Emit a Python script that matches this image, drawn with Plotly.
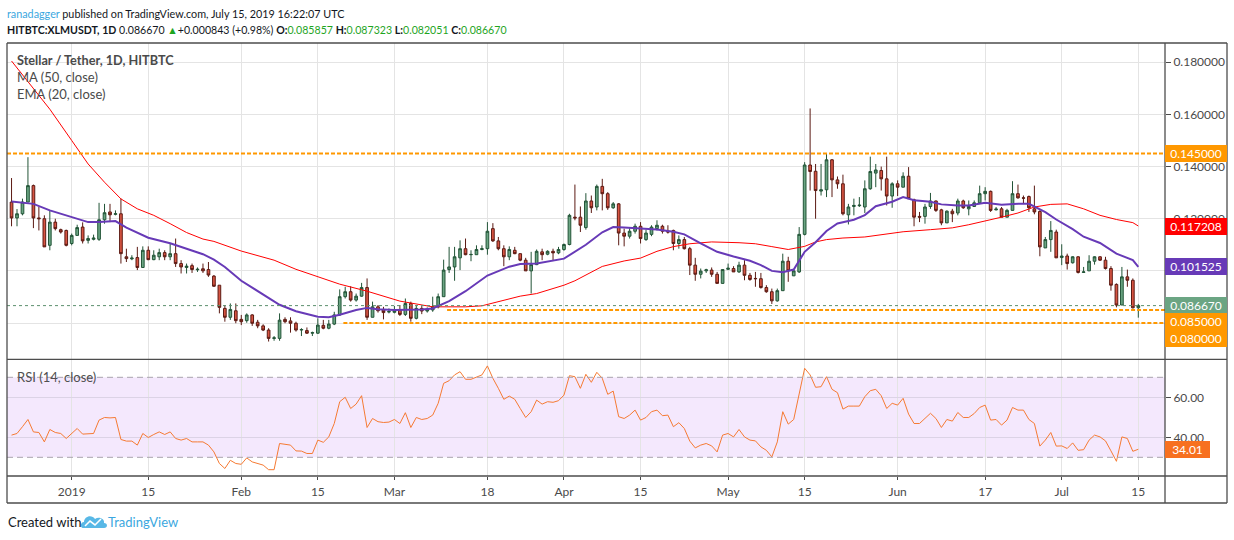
import pandas as pd
import plotly.graph_objects as go

# ---------------- data ----------------
START = "2018-12-21"
N_DAYS = 207

opens = [0.1264, 0.1203, 0.1219, 0.1264, 0.1327, 0.1203, 0.1200, 0.1098, 0.1187, 0.1158,
         0.1155, 0.1105, 0.1136, 0.1168, 0.1117, 0.1121, 0.1121, 0.1196, 0.1226, 0.1217,
         0.1219, 0.1054, 0.1046, 0.1051, 0.1013, 0.1079, 0.1043, 0.1054, 0.1070, 0.1054,
         0.1066, 0.1028, 0.1013, 0.1020, 0.1004, 0.1008, 0.1005, 0.0980, 0.0945, 0.0856,
         0.0822, 0.0847, 0.0814, 0.0809, 0.0831, 0.0803, 0.0789, 0.0773, 0.0741, 0.0741,
         0.0814, 0.0808, 0.0799, 0.0773, 0.0771, 0.0761, 0.0761, 0.0791, 0.0780, 0.0796,
         0.0831, 0.0901, 0.0920, 0.0888, 0.0903, 0.0936, 0.0822, 0.0862, 0.0850, 0.0842,
         0.0841, 0.0850, 0.0833, 0.0875, 0.0818, 0.0856, 0.0846, 0.0850, 0.0862, 0.0901,
         0.1005, 0.1015, 0.1050, 0.1085, 0.1062, 0.1062, 0.1082, 0.1085, 0.1162, 0.1115,
         0.1085, 0.1054, 0.1079, 0.1066, 0.1041, 0.1000, 0.1024, 0.1073, 0.1064, 0.1075,
         0.1069, 0.1082, 0.1101, 0.1206, 0.1206, 0.1166, 0.1268, 0.1245, 0.1324, 0.1296,
         0.1242, 0.1257, 0.1145, 0.1133, 0.1152, 0.1171, 0.1120, 0.1140, 0.1162, 0.1171,
         0.1152, 0.1155, 0.1105, 0.1120, 0.1085, 0.1022, 0.0987, 0.1000, 0.1003, 0.0987,
         0.0952, 0.1006, 0.1009, 0.0996, 0.1022, 0.0983, 0.0971, 0.0970, 0.0936, 0.0920,
         0.0885, 0.0924, 0.1037, 0.0981, 0.0996, 0.1140, 0.1406, 0.1382, 0.1306, 0.1311,
         0.1426, 0.1349, 0.1334, 0.1215, 0.1247, 0.1250, 0.1245, 0.1315, 0.1375, 0.1385,
         0.1353, 0.1287, 0.1334, 0.1321, 0.1363, 0.1273, 0.1209, 0.1209, 0.1247, 0.1268,
         0.1234, 0.1184, 0.1229, 0.1222, 0.1268, 0.1238, 0.1247, 0.1261, 0.1296, 0.1305,
         0.1234, 0.1238, 0.1206, 0.1232, 0.1296, 0.1280, 0.1285, 0.1238, 0.1228, 0.1088,
         0.1120, 0.1149, 0.1051, 0.1057, 0.1031, 0.1054, 0.0994, 0.1000, 0.1037, 0.1054,
         0.1041, 0.1009, 0.0948, 0.0869, 0.0977, 0.0964, 0.085857]

highs = [0.1356, 0.1237, 0.1277, 0.1436, 0.1331, 0.1245, 0.1213, 0.1232, 0.1200, 0.1162,
         0.1158, 0.1143, 0.1177, 0.1186, 0.1136, 0.1139, 0.1261, 0.1257, 0.1257, 0.1232,
         0.1277, 0.1085, 0.1060, 0.1092, 0.1094, 0.1094, 0.1079, 0.1085, 0.1079, 0.1105,
         0.1124, 0.1041, 0.1028, 0.1028, 0.1013, 0.1028, 0.1034, 0.0984, 0.0945, 0.0869,
         0.0875, 0.0875, 0.0831, 0.0837, 0.0834, 0.0812, 0.0795, 0.0780, 0.0750, 0.0837,
         0.0822, 0.0822, 0.0805, 0.0780, 0.0783, 0.0767, 0.0818, 0.0812, 0.0812, 0.0843,
         0.0929, 0.0939, 0.0941, 0.0913, 0.0954, 0.0971, 0.0882, 0.0869, 0.0862, 0.0856,
         0.0865, 0.0869, 0.0894, 0.0882, 0.0869, 0.0865, 0.0860, 0.0901, 0.0913, 0.1043,
         0.1092, 0.1092, 0.1117, 0.1124, 0.1079, 0.1098, 0.1098, 0.1187, 0.1183, 0.1130,
         0.1098, 0.1094, 0.1092, 0.1066, 0.1050, 0.1073, 0.1082, 0.1085, 0.1079, 0.1085,
         0.1092, 0.1105, 0.1219, 0.1331, 0.1247, 0.1298, 0.1289, 0.1331, 0.1353, 0.1302,
         0.1264, 0.1260, 0.1162, 0.1164, 0.1181, 0.1187, 0.1158, 0.1175, 0.1194, 0.1177,
         0.1175, 0.1158, 0.1136, 0.1130, 0.1092, 0.1050, 0.1009, 0.1008, 0.1013, 0.0996,
         0.1005, 0.1028, 0.1018, 0.1035, 0.1041, 0.0992, 0.0996, 0.0992, 0.0945, 0.0932,
         0.0932, 0.1066, 0.1054, 0.1005, 0.1168, 0.1417, 0.1623, 0.1410, 0.1410, 0.1451,
         0.1429, 0.1362, 0.1369, 0.1257, 0.1277, 0.1283, 0.1347, 0.1438, 0.1410, 0.1400,
         0.1438, 0.1340, 0.1347, 0.1378, 0.1398, 0.1277, 0.1226, 0.1257, 0.1299, 0.1270,
         0.1238, 0.1232, 0.1238, 0.1277, 0.1273, 0.1270, 0.1270, 0.1327, 0.1321, 0.1308,
         0.1245, 0.1245, 0.1238, 0.1344, 0.1331, 0.1289, 0.1289, 0.1327, 0.1232, 0.1130,
         0.1191, 0.1158, 0.1102, 0.1066, 0.1056, 0.1056, 0.1015, 0.1060, 0.1056, 0.1056,
         0.1054, 0.1018, 0.0952, 0.1015, 0.1005, 0.0971, 0.087323]

lows = [0.1171, 0.1171, 0.1213, 0.1264, 0.1164, 0.1155, 0.1092, 0.1079, 0.1155, 0.1143,
        0.1094, 0.1098, 0.1136, 0.1105, 0.1105, 0.1117, 0.1115, 0.1181, 0.1187, 0.1213,
        0.1028, 0.1034, 0.1041, 0.1003, 0.1013, 0.1041, 0.1041, 0.1041, 0.1041, 0.1041,
        0.1015, 0.0990, 0.0990, 0.0992, 0.0996, 0.0992, 0.0977, 0.0939, 0.0837, 0.0805,
        0.0812, 0.0799, 0.0792, 0.0801, 0.0789, 0.0780, 0.0769, 0.0729, 0.0732, 0.0732,
        0.0799, 0.0763, 0.0767, 0.0750, 0.0758, 0.0750, 0.0758, 0.0776, 0.0776, 0.0792,
        0.0827, 0.0894, 0.0882, 0.0882, 0.0901, 0.0812, 0.0822, 0.0840, 0.0814, 0.0837,
        0.0837, 0.0827, 0.0827, 0.0805, 0.0814, 0.0834, 0.0840, 0.0843, 0.0856, 0.0901,
        0.0992, 0.0962, 0.1003, 0.1060, 0.1037, 0.1062, 0.1079, 0.1062, 0.1111, 0.1079,
        0.1018, 0.1041, 0.1064, 0.1037, 0.1000, 0.0913, 0.1022, 0.1041, 0.1060, 0.1041,
        0.1064, 0.1077, 0.1098, 0.1194, 0.1149, 0.1158, 0.1222, 0.1232, 0.1232, 0.1234,
        0.1238, 0.1098, 0.1094, 0.1124, 0.1143, 0.1105, 0.1115, 0.1133, 0.1155, 0.1143,
        0.1143, 0.1079, 0.1085, 0.1082, 0.0984, 0.0962, 0.0971, 0.0992, 0.0977, 0.0952,
        0.0952, 0.1003, 0.0996, 0.0992, 0.0964, 0.0962, 0.0939, 0.0932, 0.0916, 0.0873,
        0.0882, 0.0924, 0.0958, 0.0980, 0.0992, 0.1136, 0.1308, 0.1200, 0.1289, 0.1283,
        0.1283, 0.1315, 0.1213, 0.1178, 0.1213, 0.1245, 0.1222, 0.1311, 0.1321, 0.1308,
        0.1251, 0.1242, 0.1287, 0.1321, 0.1277, 0.1171, 0.1187, 0.1181, 0.1238, 0.1226,
        0.1175, 0.1184, 0.1187, 0.1213, 0.1238, 0.1213, 0.1245, 0.1257, 0.1270, 0.1226,
        0.1232, 0.1206, 0.1206, 0.1232, 0.1277, 0.1257, 0.1226, 0.1217, 0.1056, 0.1088,
        0.1073, 0.1050, 0.1022, 0.1005, 0.1028, 0.0990, 0.0992, 0.1000, 0.1024, 0.1038,
        0.1005, 0.0924, 0.0860, 0.0869, 0.0939, 0.0856, 0.082051]

closes = [0.1203, 0.1219, 0.1264, 0.1327, 0.1203, 0.1200, 0.1092, 0.1187, 0.1162, 0.1149,
          0.1098, 0.1136, 0.1166, 0.1115, 0.1124, 0.1126, 0.1196, 0.1223, 0.1215, 0.1219,
          0.1066, 0.1047, 0.1049, 0.1013, 0.1079, 0.1043, 0.1060, 0.1070, 0.1054, 0.1066,
          0.1028, 0.1015, 0.1018, 0.1005, 0.1006, 0.1000, 0.0984, 0.0941, 0.0860, 0.0822,
          0.0852, 0.0809, 0.0805, 0.0831, 0.0799, 0.0789, 0.0773, 0.0741, 0.0743, 0.0811,
          0.0805, 0.0799, 0.0773, 0.0775, 0.0761, 0.0763, 0.0792, 0.0780, 0.0796, 0.0831,
          0.0901, 0.0920, 0.0888, 0.0903, 0.0936, 0.0822, 0.0862, 0.0847, 0.0840, 0.0844,
          0.0847, 0.0833, 0.0875, 0.0818, 0.0856, 0.0846, 0.0852, 0.0862, 0.0901, 0.1003,
          0.1015, 0.1054, 0.1085, 0.1062, 0.1063, 0.1082, 0.1085, 0.1152, 0.1115, 0.1085,
          0.1054, 0.1082, 0.1066, 0.1041, 0.1000, 0.1024, 0.1075, 0.1062, 0.1075, 0.1069,
          0.1082, 0.1101, 0.1213, 0.1203, 0.1175, 0.1268, 0.1242, 0.1324, 0.1296, 0.1242,
          0.1257, 0.1145, 0.1133, 0.1152, 0.1171, 0.1124, 0.1145, 0.1168, 0.1175, 0.1152,
          0.1149, 0.1105, 0.1120, 0.1085, 0.1022, 0.0987, 0.0999, 0.1004, 0.0987, 0.0952,
          0.1005, 0.1010, 0.0996, 0.1022, 0.0983, 0.0967, 0.0970, 0.0936, 0.0920, 0.0885,
          0.0924, 0.1037, 0.1000, 0.1000, 0.1140, 0.1406, 0.1381, 0.1308, 0.1311, 0.1426,
          0.1349, 0.1334, 0.1219, 0.1245, 0.1251, 0.1252, 0.1315, 0.1381, 0.1387, 0.1353,
          0.1287, 0.1334, 0.1321, 0.1363, 0.1277, 0.1206, 0.1206, 0.1245, 0.1268, 0.1232,
          0.1184, 0.1229, 0.1219, 0.1268, 0.1242, 0.1247, 0.1261, 0.1296, 0.1305, 0.1232,
          0.1237, 0.1206, 0.1232, 0.1296, 0.1280, 0.1279, 0.1242, 0.1226, 0.1092, 0.1120,
          0.1155, 0.1050, 0.1057, 0.1028, 0.1054, 0.0994, 0.0996, 0.1037, 0.1054, 0.1041,
          0.1009, 0.0945, 0.0869, 0.0977, 0.0964, 0.085827, 0.086670]

rsi = [41.1, 41.9, 45.3, 48.9, 42.7, 42.4, 37.7, 43.9, 42.4, 41.9,
       39.4, 41.9, 44.4, 41.6, 41.9, 41.9, 48.6, 49.9, 49.7, 49.9,
       38.9, 38.1, 38.1, 36.1, 41.9, 39.9, 41.4, 42.7, 41.4, 42.7,
       39.4, 38.6, 39.4, 37.7, 37.7, 37.7, 36.1, 32.7, 26.9, 24.4,
       28.5, 26.9, 26.5, 29.7, 27.7, 26.9, 26.1, 23.8, 23.8, 36.9,
       36.4, 36.1, 33.2, 33.1, 31.9, 31.9, 38.6, 37.5, 40.2, 46.9,
       57.8, 60.0, 54.4, 56.6, 60.8, 44.9, 49.4, 47.8, 47.4, 47.6,
       48.9, 46.9, 52.3, 44.9, 49.9, 48.9, 49.4, 51.1, 57.0, 67.0,
       68.3, 71.2, 72.8, 69.0, 69.0, 70.3, 71.2, 75.7, 69.5, 64.5,
       59.0, 60.6, 59.0, 54.4, 49.9, 52.8, 58.6, 56.6, 57.8, 57.5,
       58.3, 61.1, 70.8, 70.3, 64.5, 71.5, 67.5, 72.5, 69.5, 61.5,
       63.1, 50.3, 49.4, 51.1, 53.6, 48.6, 49.9, 52.8, 53.6, 50.8,
       51.1, 45.3, 47.3, 44.4, 38.1, 34.7, 36.1, 36.9, 35.7, 32.7,
       41.1, 41.9, 40.2, 43.9, 40.2, 38.6, 38.2, 35.2, 33.5, 30.2,
       37.7, 52.8, 46.6, 48.9, 62.0, 74.5, 71.2, 65.0, 65.3, 70.3,
       64.0, 62.3, 54.1, 55.6, 55.6, 55.6, 60.3, 63.3, 64.0, 60.8,
       54.4, 57.0, 56.1, 59.5, 51.6, 46.9, 46.9, 49.4, 52.0, 49.4,
       44.9, 48.9, 48.1, 52.4, 49.9, 49.9, 51.9, 54.9, 56.1, 48.6,
       48.9, 46.1, 48.6, 54.9, 53.6, 53.6, 48.9, 46.9, 35.6, 38.6,
       42.4, 35.6, 35.7, 34.4, 37.2, 33.5, 33.8, 38.6, 41.1, 40.2,
       38.2, 33.2, 28.0, 40.2, 39.4, 33.0, 34.01]

# MA(50) and EMA(20) (day offset from START, value)
ma50_day = [0, 4, 7, 11, 14, 17, 20, 23, 26, 29, 32, 35, 37, 42, 48, 52, 56, 60, 65, 69,
            71, 77, 83, 86, 89, 93, 96, 101, 103, 105, 108, 112, 115, 118, 121, 124, 128, 133,
            136, 139, 142, 145, 147, 149, 152, 156, 160, 163, 168, 172, 175, 178, 181, 184,
            187, 190, 193, 196, 199, 202, 205, 206]
ma50_val = [0.1805, 0.1697, 0.1620, 0.1500, 0.1410, 0.1340, 0.1276, 0.1238, 0.1213, 0.1181,
            0.1147, 0.1122, 0.1113, 0.1076, 0.1041, 0.1006, 0.0977, 0.0949, 0.0922, 0.0896,
            0.0884, 0.0862, 0.0862, 0.0866, 0.0882, 0.0903, 0.0913, 0.0945, 0.0962, 0.0985,
            0.1017, 0.1038, 0.1049, 0.1075, 0.1093, 0.1104, 0.1111, 0.1108, 0.1104, 0.1093,
            0.1082, 0.1094, 0.1111, 0.1120, 0.1126, 0.1130, 0.1140, 0.1150, 0.1158, 0.1165,
            0.1177, 0.1191, 0.1206, 0.1222, 0.1245, 0.1255, 0.1257, 0.1238, 0.1213, 0.1197,
            0.1185, 0.117208]

ema20_day = [0, 4, 7, 11, 14, 16, 19, 21, 25, 29, 32, 35, 37, 39, 42, 46, 49, 52, 56, 58,
             60, 63, 65, 67, 70, 75, 77, 80, 83, 87, 91, 93, 96, 101, 103, 105, 108, 110, 112,
             115, 118, 121, 123, 126, 129, 132, 135, 137, 139, 141, 143, 145, 147, 149, 151,
             154, 156, 158, 161, 163, 165, 168, 170, 173, 175, 178, 181, 184, 186, 189, 191,
             194, 196, 199, 202, 205, 206]
ema20_val = [0.1266, 0.1257, 0.1232, 0.1206, 0.1187, 0.1187, 0.1191, 0.1166, 0.1127, 0.1106,
             0.1085, 0.1064, 0.1043, 0.1015, 0.0962, 0.0908, 0.0870, 0.0845, 0.0824, 0.0822,
             0.0832, 0.0850, 0.0858, 0.0853, 0.0850, 0.0852, 0.0856, 0.0884, 0.0922, 0.0982,
             0.1016, 0.1026, 0.1028, 0.1047, 0.1075, 0.1100, 0.1148, 0.1168, 0.1166, 0.1163,
             0.1159, 0.1150, 0.1140, 0.1105, 0.1073, 0.1055, 0.1039, 0.1022, 0.1000, 0.0995,
             0.1005, 0.1073, 0.1110, 0.1153, 0.1182, 0.1196, 0.1214, 0.1248, 0.1265, 0.1283,
             0.1271, 0.1265, 0.1255, 0.1251, 0.1251, 0.1261, 0.1254, 0.1257, 0.1257, 0.1225,
             0.1197, 0.1160, 0.1131, 0.1107, 0.1066, 0.1041, 0.101525]

tick_dates = ["2019-01-01", "2019-01-15", "2019-02-01", "2019-02-15", "2019-03-01", "2019-03-18",
              "2019-04-01", "2019-04-15", "2019-05-01", "2019-05-15", "2019-06-01", "2019-06-17",
              "2019-07-01", "2019-07-15"]
tick_text = ["2019", "15", "Feb", "15", "Mar", "18", "Apr", "15", "May", "15", "Jun", "17", "Jul", "15"]

price_ticks = [0.08, 0.10, 0.12, 0.14, 0.16, 0.18]
price_tick_text = ["", "", "0.120000", "0.140000", "0.160000", "0.180000"]  # 0.08/0.10 sit under the tags

level_top = 0.145
level_mid = 0.085
level_low = 0.080
last_price = 0.086670

# ---------------- geometry helpers (pixels -> paper) ----------------
W, H = 1234, 540
PL, PR, PT, PB = 7, 1165, 43, 476
PW, PH = PR - PL, PB - PT


def px(x):
    return (x - PL) / PW


def py(y):
    return (PB - y) / PH


SPLIT = py(359.3)

dates = pd.date_range(START, periods=N_DAYS, freq="D")
start_ts = pd.Timestamp(START)
ma_dates = [start_ts + pd.Timedelta(days=d) for d in ma50_day]
ema_dates = [start_ts + pd.Timedelta(days=d) for d in ema20_day]

GREEN = "#6ba583"
RED = "#d75442"
ORANGE = "#ff9800"
PURPLE = "#673ab7"
MA_RED = "#ff0000"
RSI_COL = "#f57a33"
AXIS = "#4a4a4a"
GRID = "#e4e4e4"
FONT = "Lato"

fig = go.Figure()
fig.add_trace(go.Candlestick(
    x=dates, open=opens, high=highs, low=lows, close=closes,
    increasing=dict(fillcolor=GREEN, line=dict(color="#225437", width=1)),
    decreasing=dict(fillcolor=RED, line=dict(color="#5b1a13", width=1)),
    whiskerwidth=0, xaxis="x", yaxis="y", showlegend=False, name="XLMUSDT"))
fig.add_trace(go.Scatter(x=ma_dates, y=ma50_val, mode="lines",
                         line=dict(color=MA_RED, width=1), xaxis="x", yaxis="y",
                         showlegend=False, name="MA (50, close)"))
fig.add_trace(go.Scatter(x=ema_dates, y=ema20_val, mode="lines",
                         line=dict(color=PURPLE, width=2), xaxis="x", yaxis="y",
                         showlegend=False, name="EMA (20, close)"))
fig.add_trace(go.Scatter(x=dates, y=rsi, mode="lines",
                         line=dict(color=RSI_COL, width=1), xaxis="x2", yaxis="y2",
                         showlegend=False, name="RSI (14, close)"))

x_range = [pd.Timestamp("2019-01-01") - pd.Timedelta(days=11.83),
           pd.Timestamp("2019-01-01") + pd.Timedelta(days=199.88)]

common_x = dict(range=x_range, type="date", tickvals=tick_dates, showgrid=True,
                gridcolor=GRID, gridwidth=1, zeroline=False, showline=False)
fig.update_layout(
    width=W, height=H,
    margin=dict(l=PL, r=W - PR, t=PT, b=H - PB),
    paper_bgcolor="white", plot_bgcolor="white",
    font=dict(family=FONT, size=12, color=AXIS),
    xaxis=dict(**common_x, anchor="y", showticklabels=False, ticks="",
               rangeslider=dict(visible=False), matches="x2"),
    xaxis2=dict(**common_x, anchor="y2", ticktext=tick_text, ticks="outside",
                ticklen=3, tickcolor=AXIS, ticklabelstandoff=2,
                tickfont=dict(family=FONT, size=12, color=AXIS)),
    yaxis=dict(domain=[SPLIT, 1], range=[0.06608, 0.18740], side="right", anchor="x",
               tickvals=price_ticks, ticktext=price_tick_text,
               showgrid=True, gridcolor=GRID, zeroline=False, ticks="outside",
               ticklen=5, tickcolor=AXIS, tickfont=dict(family=FONT, size=12, color=AXIS)),
    yaxis2=dict(domain=[0, SPLIT], range=[20.65, 79.0], side="right", anchor="x2",
                tickvals=[40, 60], ticktext=["40.00", "60.00"],
                showgrid=True, gridcolor="#dcd3e6", zeroline=False, ticks="outside",
                ticklen=5, tickcolor=AXIS, tickfont=dict(family=FONT, size=12, color=AXIS)),
    hovermode=False,
)

shapes = []
# RSI band and dashed bounds
shapes.append(dict(type="rect", xref="x2 domain", yref="y2", x0=0, x1=1, y0=30, y1=70,
                   fillcolor="#f4e8fd", line=dict(width=0), layer="below"))
for lvl in (70, 30):
    shapes.append(dict(type="line", xref="x2 domain", yref="y2", x0=0, x1=1, y0=lvl, y1=lvl,
                       line=dict(color="#a8a3ad", width=1, dash="6px,4px"), layer="above"))
# horizontal levels on the price panel
shapes.append(dict(type="line", xref="x domain", yref="y", x0=0, x1=1, y0=level_top, y1=level_top,
                   line=dict(color=ORANGE, width=2, dash="4px,2px")))
shapes.append(dict(type="line", xref="x", yref="y", x0="2019-03-10 15:00", x1=x_range[1],
                   y0=level_mid, y1=level_mid, line=dict(color=ORANGE, width=2, dash="4px,2px")))
shapes.append(dict(type="line", xref="x", yref="y", x0="2019-02-19 16:00", x1=x_range[1],
                   y0=level_low, y1=level_low, line=dict(color=ORANGE, width=2, dash="4px,2px")))
shapes.append(dict(type="line", xref="x domain", yref="y", x0=0, x1=1, y0=last_price, y1=last_price,
                   line=dict(color="#5c8f6e", width=1, dash="dot")))
# frame lines
FR = px(1227)
FB = py(503)
for (x0, y0, x1, y1) in [(0, 1, FR, 1), (0, FB, FR, FB), (0, FB, 0, 1), (FR, FB, FR, 1),
                         (0, SPLIT, FR, SPLIT), (0, 0, FR, 0), (1, FB, 1, 1)]:
    shapes.append(dict(type="line", xref="paper", yref="paper", x0=x0, y0=y0, x1=x1, y1=y1,
                       line=dict(color="#4d4d4d", width=1.3), layer="above"))
fig.update_layout(shapes=shapes)

ann = []
# header
ann.append(dict(xref="paper", yref="paper", x=px(5), y=py(13), xanchor="left", yanchor="middle",
                showarrow=False, font=dict(family=FONT, size=10.8, color="#131722"),
                text="<span style='color:#3ba7e0'>ranadagger</span> published on TradingView.com, "
                     "July 15, 2019 16:22:07 UTC"))
G = "#1fa51f"
ann.append(dict(xref="paper", yref="paper", x=px(5), y=py(30), xanchor="left", yanchor="middle",
                showarrow=False, font=dict(family=FONT, size=10.6, color="#131722"),
                text=("<b>HITBTC:XLMUSDT, 1D</b> 0.086670 <span style='color:%s'>▲</span>"
                      "+0.000843 (+0.98%%) <b>O:</b><span style='color:%s'>0.085857</span> "
                      "<b>H:</b><span style='color:%s'>0.087323</span> "
                      "<b>L:</b><span style='color:%s'>0.082051</span> "
                      "<b>C:</b><span style='color:%s'>0.086670</span>") % (G, G, G, G, G)))
# in-pane legends
legend_lines = ["<b>Stellar / Tether, 1D, HITBTC</b>", "MA (50, close)", "EMA (20, close)"]
legend_sizes = [12.7, 13, 13]
for i, t in enumerate(legend_lines):
    ann.append(dict(xref="paper", yref="paper", x=px(15), y=py(60 + 17 * i), xanchor="left",
                    yanchor="middle", showarrow=False, text=t,
                    font=dict(family=FONT, size=legend_sizes[i], color="#4a4a4a")))
ann.append(dict(xref="paper", yref="paper", x=px(15), y=py(377), xanchor="left", yanchor="middle",
                showarrow=False, text="RSI (14, close)", font=dict(family=FONT, size=13, color="#4f4f4f")))


def price_tag(val, text, color, yshift=0, yref="y", width=56):
    return dict(xref="paper", yref=yref, x=1, y=val, xanchor="left", yanchor="middle",
                showarrow=False, text=text, bgcolor=color, width=width, height=11,
                borderpad=2, borderwidth=1, bordercolor=color, align="center", yshift=yshift,
                font=dict(family=FONT, size=12, color="white"))


ann.append(price_tag(level_top, "0.145000", ORANGE))
ann.append(price_tag(ma50_val[-1], "0.117208", MA_RED))
ann.append(price_tag(ema20_val[-1], "0.101525", PURPLE))
ann.append(price_tag(last_price, "0.086670", GREEN))
ann.append(price_tag(level_mid, "0.085000", ORANGE, yshift=-11.4))
ann.append(price_tag(level_low, "0.080000", ORANGE, yshift=-15.7))
ann.append(price_tag(rsi[-1], "34.01", "#f7701f", yref="y2", width=39))

# footer
ann.append(dict(xref="paper", yref="paper", x=px(6), y=py(522), xanchor="left", yanchor="middle",
                showarrow=False, text="Created with", font=dict(family=FONT, size=13, color="#131722")))
ann.append(dict(xref="paper", yref="paper", x=px(106), y=py(522), xanchor="left", yanchor="middle",
                showarrow=False, text="TradingView", font=dict(family=FONT, size=13, color="#3ba7e0")))
fig.update_layout(annotations=ann)


# small cloud logo in the footer
def P(x, y):
    return "%.5f,%.5f" % (px(x), py(y))


logo = ("M " + P(83, 528) + " C " + P(80, 528) + " " + P(80, 522) + " " + P(84, 522) +
        " C " + P(84, 516) + " " + P(92, 514) + " " + P(95, 519) +
        " C " + P(99, 516) + " " + P(105, 519) + " " + P(104, 523) +
        " C " + P(108, 523) + " " + P(108, 528) + " " + P(104, 528) + " Z")
fig.add_shape(type="path", xref="paper", yref="paper", path=logo,
              fillcolor="#58b8e6", line=dict(width=0), layer="above")
zig = "M " + P(85, 526) + " L " + P(90, 521) + " L " + P(95, 525) + " L " + P(101, 519)
fig.add_shape(type="path", xref="paper", yref="paper", path=zig,
              line=dict(color="white", width=1.6), layer="above")

fig.write_html("out.html", config={"displayModeBar": False},
               post_script="document.body.style.margin='0';")
